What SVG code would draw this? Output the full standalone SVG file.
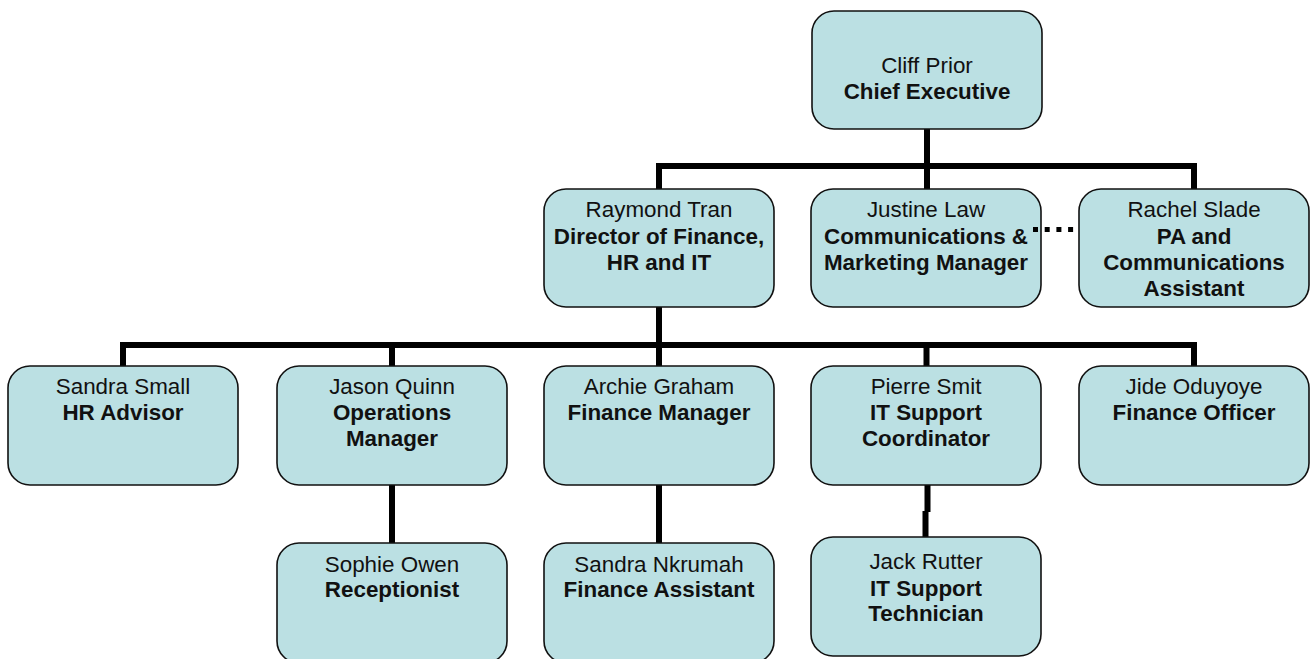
<svg xmlns="http://www.w3.org/2000/svg" width="1310" height="659" viewBox="0 0 1310 659">
<style>
.box{fill:#bbe0e3;stroke:#111;stroke-width:1.6}
.ln{fill:none;stroke:#000;stroke-width:6;stroke-linejoin:miter;stroke-linecap:butt}
.dot{fill:none;stroke:#000;stroke-width:5;stroke-dasharray:5 6.7}
text{font-family:"Liberation Sans",Arial,sans-serif;font-size:22.4px;fill:#111;text-anchor:middle}
.b{font-weight:bold}
</style>
<rect width="1310" height="659" fill="#fff"/>
<g id="connectors">
<path class="ln" d="M927 129 V189"/>
<path class="ln" d="M659 189 V166 H1194 V189"/>
<path class="ln" d="M659 307 V345"/>
<path class="ln" d="M123 366 V345 H1194 V366"/>
<path class="ln" d="M392 345 V366 M659 345 V366 M926.5 345 V366"/>
<path class="ln" d="M392 485 V543 M659 485 V543"/>
<path class="ln" d="M927.5 485 V512 M925.5 511 V537"/>
</g>
<g id="cliff"><rect class="box" x="812" y="11" width="230" height="118" rx="22"/><text x="927" y="73">Cliff Prior</text><text class="b" x="927" y="99">Chief Executive</text></g>
<g id="raymond"><rect class="box" x="544" y="189" width="230" height="118" rx="22"/><text x="659" y="217">Raymond Tran</text><text class="b" x="659" y="244">Director of Finance,</text><text class="b" x="659" y="270">HR and IT</text></g>
<g id="justine"><rect class="box" x="811" y="189" width="230" height="118" rx="22"/><text x="926" y="217">Justine Law</text><text class="b" x="926" y="244">Communications &amp;</text><text class="b" x="926" y="270">Marketing Manager</text></g>
<g id="rachel"><rect class="box" x="1079" y="189" width="230" height="118" rx="22"/><text x="1194" y="217">Rachel Slade</text><text class="b" x="1194" y="244">PA and</text><text class="b" x="1194" y="270">Communications</text><text class="b" x="1194" y="296">Assistant</text></g>
<g id="sandra-small"><rect class="box" x="8" y="366" width="230" height="119" rx="22"/><text x="123" y="394">Sandra Small</text><text class="b" x="123" y="420">HR Advisor</text></g>
<g id="jason"><rect class="box" x="277" y="366" width="230" height="119" rx="22"/><text x="392" y="394">Jason Quinn</text><text class="b" x="392" y="420">Operations</text><text class="b" x="392" y="446">Manager</text></g>
<g id="archie"><rect class="box" x="544" y="366" width="230" height="119" rx="22"/><text x="659" y="394">Archie Graham</text><text class="b" x="659" y="420">Finance Manager</text></g>
<g id="pierre"><rect class="box" x="811" y="366" width="230" height="119" rx="22"/><text x="926" y="394">Pierre Smit</text><text class="b" x="926" y="420">IT Support</text><text class="b" x="926" y="446">Coordinator</text></g>
<g id="jide"><rect class="box" x="1079" y="366" width="230" height="119" rx="22"/><text x="1194" y="394">Jide Oduyoye</text><text class="b" x="1194" y="420">Finance Officer</text></g>
<g id="sophie"><rect class="box" x="277" y="543" width="230" height="120" rx="22"/><text x="392" y="572">Sophie Owen</text><text class="b" x="392" y="597">Receptionist</text></g>
<g id="sandra-nkrumah"><rect class="box" x="544" y="543" width="230" height="120" rx="22"/><text x="659" y="572">Sandra Nkrumah</text><text class="b" x="659" y="597">Finance Assistant</text></g>
<g id="jack"><rect class="box" x="811" y="537" width="230" height="119" rx="22"/><text x="926" y="569">Jack Rutter</text><text class="b" x="926" y="596">IT Support</text><text class="b" x="926" y="621">Technician</text></g>
<g id="dotted-link"><path class="dot" d="M1033 229.5 H1075"/></g>
</svg>
